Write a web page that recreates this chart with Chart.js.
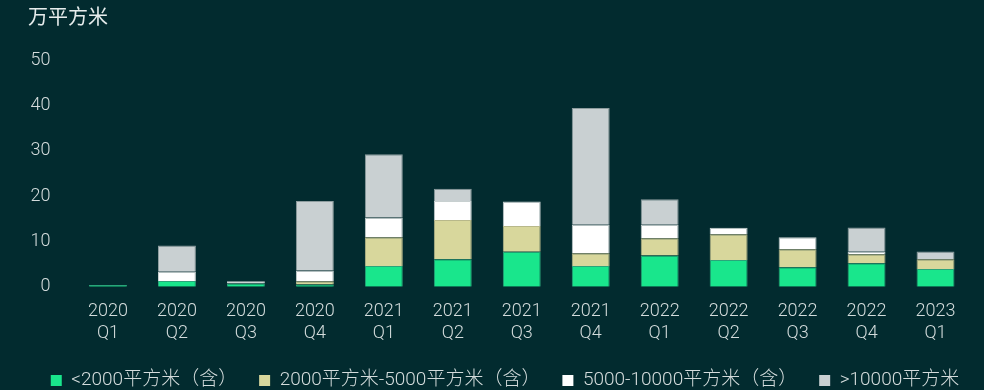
<!DOCTYPE html>
<html>
<head>
<meta charset="utf-8">
<script src="https://cdn.jsdelivr.net/npm/chart.js@4"></script>
<style>
  html, body { margin:0; padding:0; background:#022b2f; }
  #wrap { width:984px; height:390px; }
</style>
</head>
<body>
<div id="wrap"><canvas id="chart" width="984" height="390"></canvas></div>
<script>
const quarters = [['2020','Q1'],['2020','Q2'],['2020','Q3'],['2020','Q4'],['2021','Q1'],['2021','Q2'],['2021','Q3'],['2021','Q4'],['2022','Q1'],['2022','Q2'],['2022','Q3'],['2022','Q4'],['2023','Q1']];
const under2000 = [0.4, 1.3, 0.7, 0.5, 4.6, 6.1, 7.7, 4.6, 6.9, 5.9, 4.3, 5.2, 3.9];
const from2000to5000 = [0, 0, 0, 0.7, 6.3, 8.6, 5.7, 2.8, 3.8, 5.7, 4.0, 2.0, 2.2];
const from5000to10000 = [0, 2.0, 0.5, 2.4, 4.4, 4.2, 5.4, 6.3, 3.0, 1.4, 2.6, 0.5, 0];
const over10000 = [0, 5.8, 0, 15.3, 13.9, 2.7, 0, 25.7, 5.6, 0, 0, 5.4, 1.7];
const seriesNames = ['<2000平方米（含）', '2000平方米-5000平方米（含）', '5000-10000平方米（含）', '>10000平方米'];
const yTicks = [0, 10, 20, 30, 40, 50];

const fontFamily = "Roboto, 'Noto Sans CJK SC', sans-serif";
const textColor = '#d4dcdc';

// legend sits lower and tighter than chart.js puts it by default
const legendTweak = {
    id: 'legendTweak',
    afterInit(chart){
        const lg = chart.legend;
        const fit = lg.fit;
        lg.fit = function(){
            this.maxWidth = 1000;
            fit.call(this);
            this.height = 32;
        };
        const draw = lg.draw;
        lg.draw = function(){
            const l = this.left, r = this.right, b = this.bottom;
            this.left = l - 40; this.right = r + 40; this.bottom = b + 80;
            this.ctx.save();
            this.ctx.translate(6, -9);
            draw.apply(this, arguments);
            this.ctx.restore();
            this.left = l; this.right = r; this.bottom = b;
        };
    }
};

function ds(label, data, bg, border){
    return { label: label, data: data, backgroundColor: bg, borderColor: border, borderWidth: 1, barPercentage: 0.55, categoryPercentage: 1 };
}

new Chart(document.getElementById('chart'), {
    type: 'bar',
    data: {
        labels: quarters,
        datasets: [
            ds(seriesNames[0], under2000, '#19e68c', '#2aa57a'),
            ds(seriesNames[1], from2000to5000, '#d8d79c', '#b8b88a'),
            ds(seriesNames[2], from5000to10000, '#ffffff', '#c8d0d0'),
            ds(seriesNames[3], over10000, '#c9d0d2', '#8d9c9e')
        ]
    },
    plugins: [legendTweak],
    options: {
        responsive: false,
        animation: false,
        layout: { padding: { left: 28, right: 14, top: 4, bottom: 0 } },
        plugins: {
            title: {
                display: true, text: '万平方米', align: 'start', color: '#e6ecec',
                font: { family: fontFamily, size: 20, weight: 'normal' }, padding: { top: 3, bottom: 29 }
            },
            legend: {
                position: 'bottom',
                labels: {
                    color: textColor, boxWidth: 11, boxHeight: 11, padding: 22,
                    font: { family: fontFamily, size: 19, weight: 300 },
                    generateLabels: function(chart){
                        return chart.data.datasets.map((d, i) => ({
                            text: d.label, fillStyle: d.backgroundColor, strokeStyle: d.backgroundColor,
                            lineWidth: 0, datasetIndex: i, fontColor: textColor
                        }));
                    }
                }
            },
            tooltip: { enabled: false }
        },
        scales: {
            x: {
                stacked: true,
                grid: { display: false, drawTicks: false },
                border: { display: false },
                ticks: { color: textColor, font: { family: fontFamily, size: 18, weight: 300, lineHeight: 1.2 }, padding: 14, maxRotation: 0, autoSkip: false }
            },
            y: {
                stacked: true, min: 0, max: 50,
                afterFit: function(axis){ axis.width = 45.5; },
                afterBuildTicks: function(axis){ axis.ticks = yTicks.map(v => ({ value: v })); },
                grid: { display: false, drawTicks: false },
                border: { display: false },
                ticks: { color: textColor, font: { family: fontFamily, size: 18, weight: 300 }, padding: 23 }
            }
        }
    }
});
</script>
</body>
</html>
